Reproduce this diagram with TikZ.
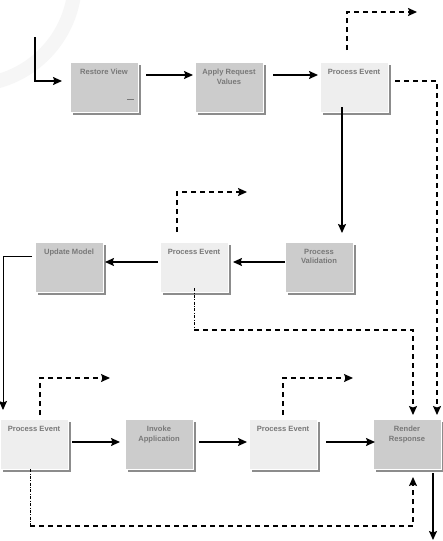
\documentclass[tikz,border=0pt]{standalone}
\usepackage{fontspec}
\setmainfont{Liberation Sans}
\usetikzlibrary{arrows.meta,shadows}
\newcommand\bxlabel[1]{\parbox[t][50pt][t]{68pt}{\centering\vspace*{7pt}#1}}
\definecolor{darkbox}{RGB}{204,204,204}
\definecolor{lightbox}{RGB}{238,238,238}
\definecolor{boxshadow}{RGB}{140,140,140}
\definecolor{boxtext}{RGB}{120,120,120}
\definecolor{wmark}{RGB}{246,246,246}
\begin{document}
\begin{tikzpicture}[x=1pt,y=-1pt,
  box/.style={inner sep=0pt, outer sep=0pt, anchor=north west, draw=white, line width=0.5pt,
    font=\fontsize{7.6}{9.5}\selectfont\bfseries, text=boxtext,
    drop shadow={shadow xshift=3pt, shadow yshift=-3pt, fill=boxshadow, opacity=1}},
  dbox/.style={box, fill=darkbox},
  lbox/.style={box, fill=lightbox},
  arr/.style={line width=1.4pt, -{Stealth[length=9pt,width=8pt,inset=1.5pt]}},
  thinarr/.style={line width=0.9pt, -{Stealth[length=9pt,width=8pt,inset=1.5pt]}},
  darr/.style={line width=1.3pt, dash pattern=on 5pt off 4pt, -{Stealth[length=9pt,width=8pt,inset=1.5pt]}},
  dotline/.style={line width=0.6pt, dash pattern=on 3pt off 1.5pt on 0.8pt off 1.5pt}
]
\useasboundingbox (0,0) rectangle (443,541);
\begin{scope}
\clip (0,0) rectangle (443,541);
\fill[white] (0,0) rectangle (443,541);
\draw[wmark, line width=14pt] (-30,-20) circle[radius=105pt];
\end{scope}

% boxes
\node[dbox] (rv)  at (70,62)   {\bxlabel{Restore View}};
\node[dbox] (arv) at (195,62)  {\bxlabel{Apply Request\\Values}};
\node[lbox] (pe1) at (320,62)  {\bxlabel{Process Event}};
\node[dbox] (um)  at (35,242)  {\bxlabel{Update Model}};
\node[lbox] (pe2) at (160,242) {\bxlabel{Process Event}};
\node[dbox] (pv)  at (285,242) {\bxlabel{Process\\Validation}};
\node[lbox] (pe3) at (0,419)   {\bxlabel{Process Event}};
\node[dbox] (ia)  at (125,419) {\bxlabel{Invoke\\Application}};
\node[lbox] (pe4) at (249,419) {\bxlabel{Process Event}};
\node[dbox] (rr)  at (373,419) {\bxlabel{Render\\Response}};

\draw[boxtext, line width=0.6pt] ([xshift=-11pt,yshift=13pt]rv.south east) -- ([xshift=-4pt,yshift=13pt]rv.south east);

% free ends
\coordinate (start) at (35,37);
\coordinate (pe1out) at (417,12);
\coordinate (pe2out) at (247,192);
\coordinate (pe3out) at (110,378);
\coordinate (pe4out) at (353,378);
\coordinate (rrout) at (433,540);
\coordinate (pe2c) at (194,330);
\coordinate (pe3c) at (30,526);

% row 1
\draw[arr] (start) |- ([xshift=-8pt,yshift=6pt]rv.west);
\draw[arr] ([xshift=8pt,yshift=12pt]rv.east) -- ([xshift=-2pt,yshift=12pt]arv.west);
\draw[arr] ([xshift=10pt,yshift=12pt]arv.east) -- ([xshift=-2pt,yshift=12pt]pe1.west);
\draw[darr] ([xshift=-7pt,yshift=12pt]pe1.north) |- (pe1out);
\draw[darr] ([xshift=7pt,yshift=6pt]pe1.east) -| ([xshift=30pt,yshift=4pt]rr.north);
\draw[arr] ([xshift=-12pt,yshift=5pt]pe1.south) -- ([xshift=23pt,yshift=9pt]pv.north);

% row 2
\draw[arr] ([yshift=5pt]pv.west) -- ([xshift=5pt,yshift=5pt]pe2.east);
\draw[arr] ([xshift=-2pt,yshift=5pt]pe2.west) -- ([xshift=2pt,yshift=5pt]um.east);
\draw[darr] ([xshift=-17pt,yshift=10pt]pe2.north) |- (pe2out);
\draw[dotline] ([yshift=4pt]pe2.south) -- (pe2c);
\draw[darr] (pe2c) -| ([xshift=6pt,yshift=4pt]rr.north);
\draw[thinarr] ([xshift=-3pt,yshift=11pt]um.west) -| ([xshift=-31pt,yshift=9pt]pe3.north);

% row 3
\draw[darr] ([xshift=6pt,yshift=4pt]pe3.north) |- (pe3out);
\draw[arr] ([xshift=4pt,yshift=2pt]pe3.east) -- ([xshift=-5pt,yshift=2pt]ia.west);
\draw[arr] ([xshift=6pt,yshift=2pt]ia.east) -- ([xshift=-2pt,yshift=2pt]pe4.west);
\draw[arr] ([xshift=9pt,yshift=2pt]pe4.east) -- ([xshift=2pt,yshift=2pt]rr.west);
\draw[darr] ([yshift=4pt]pe4.north) |- (pe4out);
\draw[dotline] ([xshift=-4pt]pe3.south) -- (pe3c);
\draw[darr] (pe3c) -| ([xshift=6pt,yshift=-8pt]rr.south);
\draw[arr] ([xshift=26pt,yshift=-4pt]rr.south) -- (rrout);
\end{tikzpicture}
\end{document}
